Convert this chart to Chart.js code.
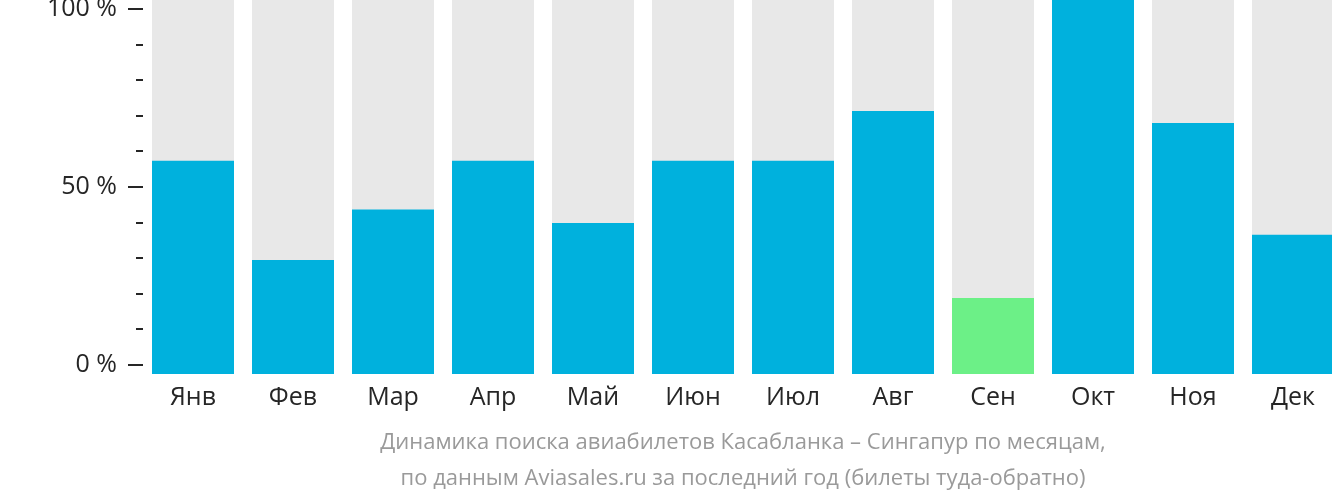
<!DOCTYPE html>
<html>
<head>
<meta charset="utf-8">
<script src="https://cdn.jsdelivr.net/npm/chart.js@4/dist/chart.umd.min.js"></script>
<style>
  html, body { margin: 0; padding: 0; background: #fff; overflow: hidden; }
  /* the last bar runs past the right edge of the original, so the canvas is a bit wider than the window */
  #wrap { width: 1343px; height: 502px; position: relative; }
</style>
</head>
<body>
<div id="wrap"><canvas id="chart"></canvas></div>
<script>
/* Касабланка – Сингапур, search dynamics by month */

const MONTHS = ['Янв', 'Фев', 'Мар', 'Апр', 'Май', 'Июн', 'Июл', 'Авг', 'Сен', 'Окт', 'Ноя', 'Дек'];
const SHARE = [57, 30.5, 44, 57, 40.4, 57, 57, 70.3, 20.3, 100, 67.1, 37.2];
const FULL = [100, 100, 100, 100, 100, 100, 100, 100, 100, 100, 100, 100];
const LOWEST = 'Сен';
const Y_TICKS = [0, 10, 20, 30, 40, 50, 60, 70, 80, 90, 100];
const Y_LABELS = [0, 50, 100];
const CAPTION = [
  'Динамика поиска авиабилетов Касабланка – Сингапур по месяцам,',
  'по данным Aviasales.ru за последний год (билеты туда-обратно)',
];

const C = { blue: '#00b1dd', green: '#6cf087', grey: '#e8e8e8', ink: '#262626', caption: '#9a9a9a' };
const FONT = "'Open Sans', 'Noto Sans', sans-serif";

// short/long tick marks on the left axis
const tickMarks = {
  id: 'tickMarks',
  afterDraw(chart) {
    const s = chart.scales.y2, ctx = chart.ctx;
    ctx.save();
    ctx.fillStyle = C.ink;
    Y_TICKS.forEach(v => {
      const py = Math.round(s.getPixelForValue(v));
      const len = Y_LABELS.includes(v) ? 15 : 7;
      ctx.fillRect(s.right - len, py - 1, len, 2);
    });
    ctx.restore();
  },
};

new Chart(document.getElementById('chart'), {
  type: 'bar',
  data: {
    labels: MONTHS,
    datasets: [
      { data: SHARE, backgroundColor: MONTHS.map(m => m === LOWEST ? C.green : C.blue),
        grouped: false, yAxisID: 'y' },
      { data: FULL, backgroundColor: C.grey, grouped: false, yAxisID: 'y' },
    ],
  },
  options: {
    responsive: true,
    maintainAspectRatio: false,
    animation: false,
    barPercentage: 0.82,
    categoryPercentage: 1,
    layout: { padding: 0 },
    plugins: { legend: { display: false }, tooltip: { enabled: false } },
    scales: {
      x: {
        grid: { display: false, drawTicks: false }, border: { display: false },
        ticks: { color: C.ink, font: { family: FONT, size: 25 }, padding: 9 },
        title: {
          display: true, text: CAPTION, color: C.caption,
          font: { family: FONT, size: 22, lineHeight: 36 / 22 },
          padding: { top: 0, bottom: 5 },
        },
        afterFit: s => { s.height = 128; s.paddingLeft = 0; s.paddingRight = 0; },
      },
      y: { display: false, min: 0, max: 100 },
      y2: {
        position: 'left', min: -2.53, max: 102.53,
        grid: { display: false, drawTicks: false }, border: { display: false },
        afterBuildTicks: s => { s.ticks = Y_TICKS.map(v => ({ value: v })); },
        afterFit: s => { s.width = 143; s.paddingTop = 0; s.paddingBottom = 0; },
        ticks: {
          color: C.ink, font: { family: FONT, size: 25 }, padding: 26,
          callback: v => Y_LABELS.includes(v) ? v + ' %' : '',
        },
      },
    },
  },
  plugins: [tickMarks],
});
</script>
</body>
</html>
